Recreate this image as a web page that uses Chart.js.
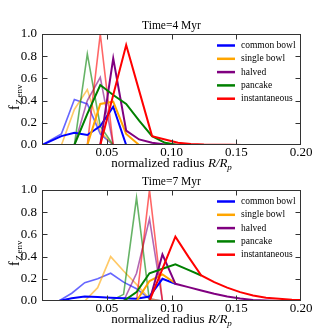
<!DOCTYPE html>
<html>
<head>
<meta charset="utf-8">
<script src="https://cdn.jsdelivr.net/npm/chart.js@4/dist/chart.umd.min.js"></script>
<style>
  body { margin: 0; background: #fff; }
  #wrap { position: relative; width: 336px; height: 336px; }
  canvas { position: absolute; left: 0; }
</style>
</head>
<body>
<div id="wrap">
  <canvas id="top" width="336" height="180" style="top:0"></canvas>
  <canvas id="bottom" width="336" height="180" style="top:156px"></canvas>
</div>
<script>
// legend labels and colours
const methods = ['common bowl', 'single bowl', 'halved', 'pancake', 'instantaneous'];
const colours = ['0,0,255', '255,165,0', '128,0,128', '0,128,0', '255,0,0'];

const xTicks = [0.05, 0.10, 0.15];
const yTicks = [0.2, 0.4, 0.6, 0.8];

// Time = 4 Myr
const radius4 = [0, 0.015, 0.025, 0.035, 0.045, 0.055, 0.065, 0.075, 0.085, 0.095,
                 0.105, 0.115, 0.125, 0.135, 0.145, 0.155, 0.165, 0.175, 0.185, 0.195];
const common4Faded  = [0, 0.10, 0.41, 0.37, 0.10, 0, 0, 0, 0, 0, 0, 0, 0, 0, 0, 0, 0, 0, 0, 0];
const common4       = [0, 0.08, 0.11, 0.09, 0.17, 0.345, 0, 0, 0, 0, 0, 0, 0, 0, 0, 0, 0, 0, 0, 0];
const single4Faded  = [0, 0, 0.32, 0.50, 0.12, 0, 0, 0, 0, 0, 0, 0, 0, 0, 0, 0, 0, 0, 0, 0];
const single4       = [0, 0, 0, 0, 0.37, 0.39, 0.10, 0, 0, 0, 0, 0, 0, 0, 0, 0, 0, 0, 0, 0];
const halved4Faded  = [0, 0, 0, 0.40, 0.61, 0, 0, 0, 0, 0, 0, 0, 0, 0, 0, 0, 0, 0, 0, 0];
const halved4       = [0, 0, 0, 0, 0, 0.78, 0.13, 0.05, 0.02, 0.005, 0, 0, 0, 0, 0, 0, 0, 0, 0, 0];
const pancake4Faded = [0, 0, 0, 0.82, 0.17, 0, 0, 0, 0, 0, 0, 0, 0, 0, 0, 0, 0, 0, 0, 0];
const pancake4      = [0, 0, 0, 0.28, 0.54, 0.45, 0.37, 0.22, 0.08, 0.02, 0, 0, 0, 0, 0, 0, 0, 0, 0, 0];
const instant4Faded = [0, 0, 0, 0, 1.0, 0, 0, 0, 0, 0, 0, 0, 0, 0, 0, 0, 0, 0, 0, 0];
const instant4      = [0, 0, 0, 0, 0, 0.45, 0.90, 0.49, 0.08, 0.05, 0.02, 0.01, 0.005, 0.003, 0.002, 0, 0, 0, 0, 0];

// Time = 7 Myr
const radius7 = [0.003, 0.013, 0.023, 0.033, 0.043, 0.053, 0.063, 0.073, 0.083, 0.093, 0.103,
                 0.113, 0.123, 0.133, 0.143, 0.153, 0.163, 0.173, 0.183, 0.193, 0.203];
const common7Faded  = [0, 0, 0.07, 0.165, 0.20, 0.25, 0.17, 0.11, 0.02, 0, 0, 0, 0, 0, 0, 0, 0, 0, 0, 0, 0];
const common7       = [0, 0, 0.025, 0.04, 0.035, 0.03, 0.025, 0.02, 0.04, 0.20, 0.155, null, null, null, null, null, null, null, null, null, null];
const single7Faded  = [0, 0, 0, 0, 0.12, 0.40, 0.27, 0.15, 0.02, 0, 0, 0, 0, 0, 0, 0, 0, 0, 0, 0, 0];
const single7       = [0, 0, 0, 0, 0, 0, 0, 0, 0.18, 0.24, 0.16, null, null, null, null, null, null, null, null, null, null];
const halved7Faded  = [0, 0, 0, 0, 0, 0, 0, 0.25, 0.74, 0, 0, 0, 0, 0, 0, 0, 0, 0, 0, 0, 0];
const halved7       = [0, 0, 0, 0, 0, 0, 0, 0, 0, 0.42, 0.155, 0.125, 0.095, 0.065, 0.04, 0.022, 0.01, 0.005, 0, 0, 0];
const pancake7Faded = [0, 0, 0, 0, 0, 0, 0.06, 0.93, 0, 0, 0, 0, 0, 0, 0, 0, 0, 0, 0, 0, 0];
const pancake7      = [0, 0, 0, 0, 0, 0, 0, 0.08, 0.25, 0.29, 0.33, 0.28, 0.23, null, null, null, null, null, null, null, null];
const instant7Faded = [0, 0, 0, 0, 0, 0, 0, 0, 1.0, 0, 0, 0, 0, 0, 0, 0, 0, 0, 0, 0, 0];
const instant7      = [0, 0, 0, 0, 0, 0, 0, 0, 0, 0.29, 0.58, 0.40, 0.23, 0.17, 0.12, 0.08, 0.05, 0.03, 0.02, 0.012, 0.008];

const SERIF = '"Liberation Serif", "DejaVu Serif", serif';

// frame with inward ticks, title, axis labels and legend
const decorations = {
  id: 'decorations',
  afterDatasetsDraw(chart, args, opts) {
    const ctx = chart.ctx;
    const a = chart.chartArea;
    const xs = chart.scales.x, ys = chart.scales.y;
    const L = Math.round(a.left) + 0.5, R = Math.round(a.right) - 0.5;
    const T = Math.round(a.top) + 0.5, B = Math.round(a.bottom) - 0.5;
    ctx.save();
    ctx.strokeStyle = '#333';
    ctx.lineWidth = 1;
    ctx.strokeRect(L, T, R - L, B - T);
    ctx.beginPath();
    xTicks.forEach(v => {
      const px = Math.round(xs.getPixelForValue(v)) + 0.5;
      ctx.moveTo(px, B); ctx.lineTo(px, B - 5);
      ctx.moveTo(px, T); ctx.lineTo(px, T + 5);
    });
    yTicks.forEach(v => {
      const py = Math.round(ys.getPixelForValue(v)) + 0.5;
      ctx.moveTo(L, py); ctx.lineTo(L + 5, py);
      ctx.moveTo(R, py); ctx.lineTo(R - 5, py);
    });
    ctx.stroke();

    const cx = (a.left + a.right) / 2;
    ctx.fillStyle = '#000';
    ctx.textBaseline = 'alphabetic';

    // title
    ctx.font = '11.5px ' + SERIF;
    ctx.textAlign = 'center';
    ctx.fillText(opts.title, cx, a.top - 5);

    // x label: normalized radius R/R_p
    ctx.textAlign = 'left';
    const part1 = 'normalized radius ';
    ctx.font = '13px ' + SERIF;
    const w1 = ctx.measureText(part1).width;
    ctx.font = 'italic 13px ' + SERIF;
    const w2 = ctx.measureText('R/R').width;
    ctx.font = 'italic 9px ' + SERIF;
    const w3 = ctx.measureText('p').width;
    let x0 = cx - (w1 + w2 + w3) / 2;
    const base = a.bottom + 22;
    ctx.font = '13px ' + SERIF;
    ctx.fillText(part1, x0, base);
    ctx.font = 'italic 13px ' + SERIF;
    ctx.fillText('R/R', x0 + w1, base);
    ctx.font = 'italic 9px ' + SERIF;
    ctx.fillText('p', x0 + w1 + w2, base + 3);

    // y label: f_{Z,env}
    ctx.save();
    ctx.translate(19, (a.top + a.bottom) / 2 + 8);
    ctx.rotate(-Math.PI / 2);
    ctx.font = '14px ' + SERIF;
    const fw = ctx.measureText('f').width;
    ctx.font = 'italic 9px ' + SERIF;
    const zw = ctx.measureText('Z').width;
    ctx.font = '9px ' + SERIF;
    const ew = ctx.measureText(',env').width;
    const s = -(fw + zw + ew) / 2;
    ctx.font = '14px ' + SERIF;
    ctx.fillText('f', s, 0);
    ctx.font = 'italic 9px ' + SERIF;
    ctx.fillText('Z', s + fw + 0.5, 3);
    ctx.font = '9px ' + SERIF;
    ctx.fillText(',env', s + fw + zw + 0.5, 3);
    ctx.restore();

    // legend
    ctx.font = '9.5px ' + SERIF;
    ctx.textBaseline = 'middle';
    methods.forEach((name, i) => {
      const y = a.top + 11.5 + i * 13.3;
      ctx.strokeStyle = 'rgb(' + colours[i] + ')';
      ctx.lineWidth = 2.5;
      ctx.beginPath();
      ctx.moveTo(217, y); ctx.lineTo(235, y);
      ctx.stroke();
      ctx.fillText(name, 241, y);
    });
    ctx.restore();
  }
};

function points(radius, vals) {
  return radius.map((r, i) => ({ x: r, y: vals[i] }));
}

function makeChart(id, title, radius, faded, solid) {
  const datasets = [];
  faded.forEach((vals, i) => {
    datasets.push({
      data: points(radius, vals),
      borderColor: 'rgba(' + colours[i] + ',0.6)',
      borderWidth: 1.6
    });
  });
  solid.forEach((vals, i) => {
    datasets.push({
      data: points(radius, vals),
      borderColor: 'rgb(' + colours[i] + ')',
      borderWidth: 2
    });
  });
  // later datasets on top
  datasets.forEach((d, i) => {
    d.order = datasets.length - i;
    d.pointRadius = 0;
    d.tension = 0;
    d.fill = false;
    d.spanGaps = false;
  });

  return new Chart(document.getElementById(id), {
    type: 'line',
    data: { datasets },
    options: {
      responsive: false,
      animation: false,
      events: [],
      layout: { padding: { top: 34, right: 35, left: 0, bottom: 0 } },
      plugins: {
        legend: { display: false },
        tooltip: { enabled: false },
        decorations: { title }
      },
      scales: {
        x: {
          type: 'linear',
          min: 0, max: 0.2,
          grid: { display: false, drawTicks: false },
          border: { display: false },
          afterFit: sc => { sc.height = 35; },
          ticks: {
            stepSize: 0.05,
            padding: 0,
            maxRotation: 0,
            color: '#000',
            font: { family: SERIF, size: 13 },
            callback: v => (v === 0 ? '' : v.toFixed(2))
          }
        },
        y: {
          min: 0, max: 1,
          grid: { display: false, drawTicks: false },
          border: { display: false },
          afterFit: sc => { sc.width = 42; },
          ticks: {
            stepSize: 0.2,
            padding: 5,
            color: '#000',
            font: { family: SERIF, size: 13 },
            callback: v => v.toFixed(1)
          }
        }
      }
    },
    plugins: [decorations]
  });
}

makeChart('top', 'Time=4 Myr', radius4,
  [common4Faded, single4Faded, halved4Faded, pancake4Faded, instant4Faded],
  [common4, single4, halved4, pancake4, instant4]);

makeChart('bottom', 'Time=7 Myr', radius7,
  [common7Faded, single7Faded, halved7Faded, pancake7Faded, instant7Faded],
  [common7, single7, halved7, pancake7, instant7]);
</script>
</body>
</html>
